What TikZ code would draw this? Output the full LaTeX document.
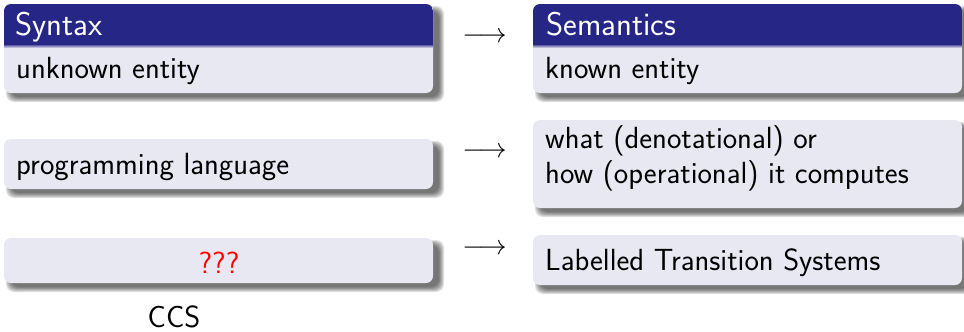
\RequirePackage{fix-cm}
\documentclass[tikz,border=0pt]{standalone}
\usepackage{fontspec}
\usepackage{graphicx}
\usetikzlibrary{calc}

\definecolor{titleblue}{RGB}{38,38,134}
\definecolor{bodybg}{RGB}{232,232,242}
\definecolor{alertred}{RGB}{255,0,0}

% soft drop shadow, rounded background and (optional) title band of a block
\newcommand\blockshadow[4]{%
  \foreach \k in {0,...,5}{%
    \fill[black, opacity=0.12, rounded corners=8pt]
      (#1+2+\k,#2+2+\k) rectangle (#3+11-\k,#4+9-\k);
  }}
\newcommand\blockbg[4]{%
  \blockshadow{#1}{#2}{#3}{#4}%
  \fill[bodybg, rounded corners=7pt] (#1,#2) rectangle (#3,#4);}
\newcommand\blocktitlebg[5]{%
  \blockbg{#1}{#2}{#3}{#4}%
  \begin{scope}
    \clip[rounded corners=7pt] (#1,#2) rectangle (#3,#4);
    \fill[titleblue] (#1,#2) rectangle (#3,#5);
    \shade[top color=titleblue!70!bodybg, bottom color=bodybg] (#1,#5) rectangle (#3,#5+3);
  \end{scope}}
\newcommand\maps{\resizebox{44.5pt}{!}{$\longrightarrow$}}

\begin{document}
\begin{tikzpicture}[x=1pt,y=-1pt,
  txt/.style={font=\sffamily\fontsize{30.6}{34.5}\selectfont, inner sep=0pt},
  bodytext/.style={txt, anchor=base west, align=left},
  titletext/.style={font=\sffamily\fontsize{32.8}{38}\selectfont, inner sep=0pt, anchor=base west, text=white},
  maparrow/.style={inner sep=0pt, anchor=center}]
\useasboundingbox (0,0) rectangle (964,332);

% block backgrounds
\blocktitlebg{4}{4}{433}{93}{45}
\blocktitlebg{533}{4}{962}{93}{45}
\blockbg{4}{139}{433}{189}
\blockbg{533}{120}{962}{208}
\blockbg{4}{238}{433}{283}
\blockbg{533}{235}{962}{285}

% first row: titled blocks
\node[titletext] (syntitle) at (15,35) {Syntax};
\node[bodytext] (synbody) at (16,78) {unknown entity};
\node[titletext] (semtitle) at (546,35) {Semantics};
\node[bodytext] (sembody) at (545,78) {known entity};

% second row (base anchor of a two-line node sits on its last line)
\node[bodytext] (proglang) at (16,174) {programming language};
\node[bodytext] (meaning) at (545,183) {what (denotational) or\\how (operational) it computes};

% third row
\node[txt, anchor=base, text=alertred] (unknown) at (219,273) {???};
\node[bodytext] (lts) at (545,270) {Labelled Transition Systems};
\node[txt, anchor=base] (ccs) at (174,327.5) {CCS};

% mapping arrows
\node[maparrow] (arr1) at (484.5,37) {\maps};
\node[maparrow] (arr2) at (484.5,152) {\maps};
\node[maparrow] (arr3) at (484.5,249) {\maps};
\end{tikzpicture}
\end{document}
